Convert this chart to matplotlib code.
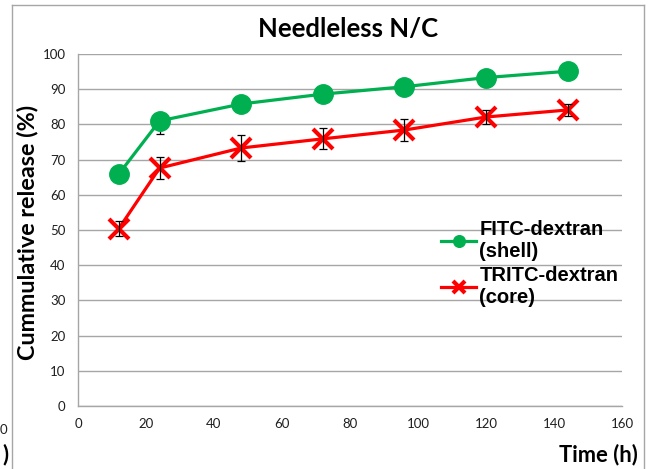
import matplotlib
matplotlib.use("Agg")
import matplotlib.pyplot as plt
from matplotlib.lines import Line2D

# Release data (time in hours, cumulative release in %)
time_h = [12, 24, 48, 72, 96, 120, 144]
fitc_shell = [65.9, 81.0, 85.8, 88.6, 90.7, 93.3, 95.1]
fitc_err_low = [1.0, 3.6, 1.0, 1.0, 1.0, 1.0, 1.0]
fitc_err_high = [1.0, 1.5, 1.0, 1.0, 1.0, 1.0, 1.0]
tritc_core = [50.4, 67.6, 73.3, 75.9, 78.4, 82.1, 84.1]
tritc_err = [2.1, 3.1, 3.8, 3.0, 3.0, 2.0, 1.8]

series_labels = ["FITC-dextran\n(shell)", "TRITC-dextran\n(core)"]
x_ticks = [0, 20, 40, 60, 80, 100, 120, 140, 160]
y_ticks = [0, 10, 20, 30, 40, 50, 60, 70, 80, 90, 100]

W, H = 656, 469
fig = plt.figure(figsize=(W / 100, H / 100), dpi=100)
ax = fig.add_axes([78 / W, 1 - 406 / H, 544 / W, 352 / H])

green = "#00b050"
red = "#ff0000"
grid_c = "#a6a6a6"

ax.errorbar(time_h, fitc_shell, yerr=[fitc_err_low, fitc_err_high], fmt="none",
            ecolor="black", elinewidth=0.9, capsize=3, capthick=0.9, zorder=2)
ax.plot(time_h, fitc_shell, color=green, lw=2.3, marker="o", ms=14,
        label=series_labels[0], zorder=3)
ax.plot(time_h, tritc_core, color=red, lw=2.3, marker="x", ms=14, mew=3,
        label=series_labels[1], zorder=3)
ax.errorbar(time_h, tritc_core, yerr=tritc_err, fmt="none", ecolor="black",
            elinewidth=0.9, capsize=3, capthick=0.9, zorder=4)

ax.set_xlim(0, 160)
ax.set_ylim(0, 100)
ax.set_xticks(x_ticks)
ax.set_yticks(y_ticks)
ax.yaxis.grid(True, color=grid_c, lw=1)
ax.set_axisbelow(True)
for s in ["top", "right"]:
    ax.spines[s].set_visible(False)
for s in ["left", "bottom"]:
    ax.spines[s].set_color(grid_c)
    ax.spines[s].set_linewidth(1)
ax.tick_params(length=0, labelsize=9.5, colors="#1f1f1f", pad=9)
for lab in ax.get_xticklabels() + ax.get_yticklabels():
    lab.set_fontfamily("Lato")

leg = ax.legend(loc="upper left", bbox_to_anchor=((441 - 78) / 544, (406 - 220) / 352),
                frameon=False, borderaxespad=0, borderpad=0, handlelength=1.75,
                handletextpad=0.15, labelspacing=0.25, markerscale=0.6,
                prop={"family": "Liberation Sans", "weight": "bold", "size": 14.5})

fig.text(348 / W, 1 - 29 / H, "Needleless N/C", ha="center", va="center",
         fontsize=18.5, fontweight="bold", family="Lato")
fig.text(28 / W, 1 - 232 / H, "Cummulative release (%)", ha="center", va="center",
         rotation=90, fontsize=16.8, fontweight="bold", family="Lato")
fig.text(638 / W, 1 - 455 / H, "Time (h)", ha="right", va="center",
         fontsize=15.8, fontweight="bold", family="Lato")

# neighbouring panel fragments at the left edge
fig.text(7 / W, 1 - 430 / H, "0", ha="right", va="center", fontsize=9.5,
         family="Lato", color="#1f1f1f")
fig.text(9 / W, 1 - 455 / H, ")", ha="right", va="center", fontsize=15.8,
         fontweight="bold", family="Lato")

# outer chart frame
frame_kw = dict(color=grid_c, lw=1, transform=fig.transFigure)
fig.add_artist(Line2D([12 / W, 12 / W], [0, 1 - 5 / H], **frame_kw))
fig.add_artist(Line2D([12 / W, 644 / W], [1 - 5 / H, 1 - 5 / H], **frame_kw))
fig.add_artist(Line2D([644 / W, 644 / W], [0, 1 - 5 / H], **frame_kw))

fig.savefig("out.png", dpi=100)
